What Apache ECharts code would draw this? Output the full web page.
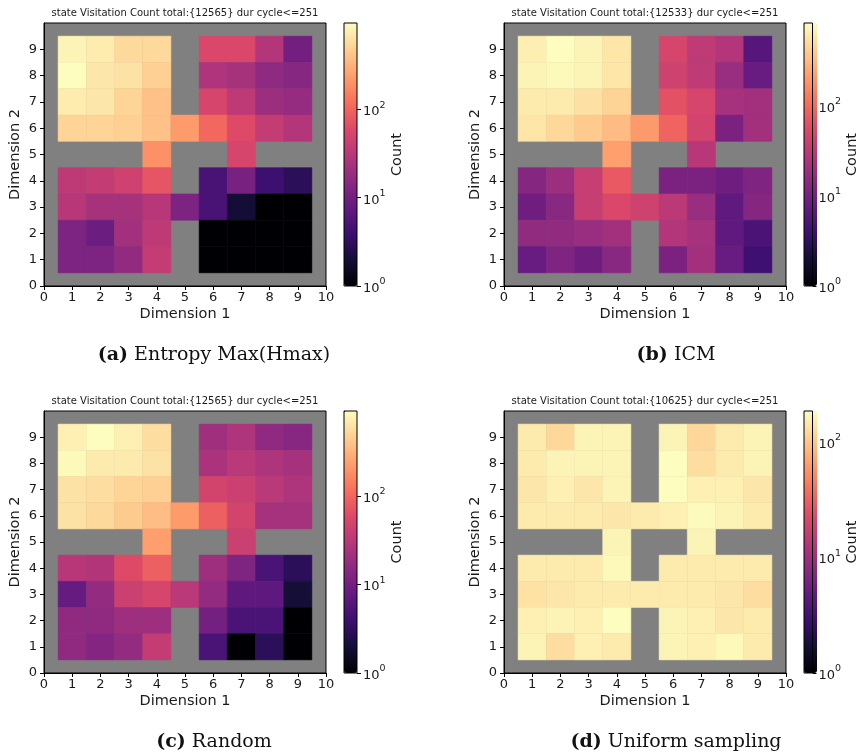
<!DOCTYPE html>
<html>
<head>
<meta charset="utf-8">
<script src="https://cdn.jsdelivr.net/npm/echarts@6/dist/echarts.min.js"></script>
<style>
  html, body { margin: 0; padding: 0; background: #fff; }
  #chart { width: 861px; height: 753px; }
</style>
</head>
<body>
<div id="chart"></div>
<script>
// visit counts, rows from y=9 (top) down to y=1, columns x=1..9, null = wall
const countsHmax = [
  [832, 733, 556, 556, null, 57, 57, 29, 10],
  [950, 676, 636, 484, null, 27, 24, 16, 14],
  [733, 676, 516, 392, null, 53, 35, 20, 18],
  [516, 516, 484, 392, 226, 106, 61, 38, 29],
  [null, null, null, 196, null, null, 53, null, null],
  [35, 38, 47, 76, null, 5, 11, 4, 3],
  [31, 24, 24, 31, 12, 5, 2, 1, 1],
  [12, 9, 22, 35, null, 1, 1, 1, 1],
  [12, 12, 17, 38, null, 1, 1, 1, 1]
]
const countsIcm = [
  [680, 832, 727, 594, null, 49, 33, 27, 6],
  [727, 780, 727, 594, null, 43, 33, 18, 8],
  [636, 636, 555, 453, null, 65, 49, 22, 21],
  [594, 486, 397, 323, 203, 90, 46, 11, 21],
  [null, null, null, 217, null, null, 29, null, null],
  [13, 19, 38, 74, null, 11, 11, 9, 12],
  [9, 14, 38, 53, 43, 31, 18, 7, 13],
  [16, 16, 18, 21, null, 27, 22, 7, 5],
  [8, 12, 9, 14, null, 11, 21, 8, 4]
]
const countsRandom = [
  [748, 912, 748, 573, null, 21, 26, 16, 14],
  [854, 700, 700, 612, null, 25, 32, 26, 23],
  [612, 573, 501, 469, null, 49, 42, 32, 26],
  [612, 535, 438, 358, 219, 90, 49, 23, 23],
  [null, null, null, 234, null, null, 42, null, null],
  [30, 28, 60, 90, null, 20, 12, 5, 3],
  [8, 17, 42, 52, 32, 17, 7, 7, 2],
  [16, 16, 20, 20, null, 10, 5, 5, 1],
  [16, 13, 17, 37, null, 5, 1, 3, 1]
]
const countsUniform = [
  [150, 121, 167, 167, null, 167, 121, 150, 167],
  [150, 167, 167, 167, null, 184, 128, 150, 167],
  [142, 158, 142, 167, null, 184, 158, 158, 142],
  [150, 150, 150, 142, 150, 158, 180, 167, 150],
  [null, null, null, 167, null, null, 167, null, null],
  [150, 150, 150, 175, null, 150, 150, 150, 150],
  [135, 142, 150, 150, 150, 150, 150, 142, 128],
  [158, 167, 158, 184, null, 167, 158, 142, 150],
  [167, 128, 158, 150, null, 167, 158, 175, 150]
]

const panelTitles = [
  'state Visitation Count total:{12565} dur cycle<=251',
  'state Visitation Count total:{12533} dur cycle<=251',
  'state Visitation Count total:{12565} dur cycle<=251',
  'state Visitation Count total:{10625} dur cycle<=251'
]
const captionTags = ['(a)', '(b)', '(c)', '(d)']
const captionTexts = ['Entropy Max(Hmax)', 'ICM', 'Random', 'Uniform sampling']

const dim1Ticks = [0, 1, 2, 3, 4, 5, 6, 7, 8, 9, 10]
const dim2Ticks = [0, 1, 2, 3, 4, 5, 6, 7, 8, 9]
const cbMajor = [1, 10, 100]
const cbMinor = [2, 3, 4, 5, 6, 7, 8, 9, 20, 30, 40, 50, 60, 70, 80, 90, 200, 300, 400, 500, 600, 700, 800, 900]

const panelCounts = [countsHmax, countsIcm, countsRandom, countsUniform]

// magma colormap
const magma = ['#000004', '#140e36', '#3b0f70', '#641a80', '#8c2981', '#b73779',
  '#de4968', '#f7705c', '#fe9f6d', '#fecf92', '#fcfdbf']

// plot boxes
const boxes = [
  { left: 44, top: 23, height: 263, cbLeft: 344, capX: 214, capY: 355 },
  { left: 504, top: 23, height: 263, cbLeft: 804, capX: 676, capY: 355 },
  { left: 44, top: 411, height: 262, cbLeft: 344, capX: 214, capY: 742 },
  { left: 504, top: 411, height: 262, cbLeft: 804, capX: 676, capY: 742 }
]
const plotW = 282
const cbW = 13

const sansFont = 'DejaVu Sans'
const serifFont = 'DejaVu Serif'
const ink = '#1a1a1a'
const tickFont = 13

const option = {
  backgroundColor: '#fff',
  animation: false,
  grid: [],
  xAxis: [],
  yAxis: [],
  series: [],
  visualMap: [],
  graphic: []
}

panelCounts.forEach((rows, i) => {
  const b = boxes[i]
  const cells = []
  let vmax = 1
  rows.forEach((row, r) => {
    row.forEach((v, c) => {
      if (v === null) return
      cells.push([c + 1, 9 - r, Math.log10(v), v])
      vmax = Math.max(vmax, v)
    })
  })
  const logMax = Math.log10(vmax)

  // main heatmap grid
  option.grid.push({
    left: b.left, top: b.top, width: plotW, height: b.height,
    show: true, backgroundColor: '#808080', borderColor: '#000', borderWidth: 1
  })
  // colorbar frame
  option.grid.push({
    left: b.cbLeft, top: b.top, width: cbW, height: b.height,
    show: true, backgroundColor: 'transparent', borderColor: '#000', borderWidth: 1, z: 10
  })

  const gMain = i * 2
  const gCb = i * 2 + 1

  option.xAxis.push({
    gridIndex: gMain, type: 'value', min: 0, max: 10, interval: 1,
    name: 'Dimension 1', nameLocation: 'middle', nameGap: 21,
    nameTextStyle: { fontFamily: sansFont, fontSize: 14.5, color: ink },
    axisLine: { lineStyle: { color: '#000', width: 1 } },
    axisTick: { length: 4, lineStyle: { color: '#000' }, customValues: dim1Ticks },
    axisLabel: { fontFamily: sansFont, fontSize: tickFont, color: ink, margin: 5, customValues: dim1Ticks },
    splitLine: { show: false }
  })
  option.xAxis.push({ gridIndex: gCb, type: 'value', min: 0, max: 1, show: false })

  const yMain = option.yAxis.length
  option.yAxis.push({
    gridIndex: gMain, type: 'value', min: 0, max: 10, interval: 1,
    name: 'Dimension 2', nameLocation: 'middle', nameGap: 21,
    nameTextStyle: { fontFamily: sansFont, fontSize: 14.5, color: ink },
    axisLine: { lineStyle: { color: '#000', width: 1 } },
    axisTick: { length: 4, lineStyle: { color: '#000' }, customValues: dim2Ticks },
    axisLabel: { fontFamily: sansFont, fontSize: tickFont, color: ink, margin: 7, customValues: dim2Ticks },
    splitLine: { show: false }
  })
  // colorbar minor ticks
  option.yAxis.push({
    gridIndex: gCb, type: 'value', min: 0, max: logMax, position: 'right',
    axisLine: { show: false }, splitLine: { show: false },
    axisTick: { length: 2.5, lineStyle: { color: '#000' },
      customValues: cbMinor.filter(v => v <= vmax).map(v => Math.log10(v)) },
    axisLabel: { show: false }
  })
  // colorbar major ticks + labels
  const majors = cbMajor.filter(v => v <= vmax).map(v => Math.log10(v))
  option.yAxis.push({
    gridIndex: gCb, type: 'value', min: 0, max: logMax, position: 'right',
    name: 'Count', nameLocation: 'middle', nameGap: 31, nameRotate: 90,
    nameTextStyle: { fontFamily: sansFont, fontSize: 14.5, color: ink },
    axisLine: { show: false }, splitLine: { show: false },
    axisTick: { length: 4, lineStyle: { color: '#000' }, customValues: majors },
    axisLabel: {
      fontFamily: sansFont, fontSize: tickFont, color: ink, margin: 6,
      customValues: majors,
      formatter: v => '{base|10}{sup|' + Math.round(v) + '}',
      rich: {
        base: { fontFamily: sansFont, fontSize: tickFont, color: ink, lineHeight: 18, verticalAlign: 'bottom' },
        sup: { fontFamily: sansFont, fontSize: 9.5, color: ink, lineHeight: 11, verticalAlign: 'top' }
      }
    }
  })

  option.series.push({
    type: 'custom',
    xAxisIndex: i * 2,
    yAxisIndex: yMain,
    data: cells,
    encode: { x: 0, y: 1 },
    renderItem: (params, api) => {
      const p0 = api.coord([api.value(0) - 0.5, api.value(1) + 0.5])
      const size = api.size([1, 1])
      const color = api.visual('color')
      return {
        type: 'rect',
        shape: { x: p0[0], y: p0[1], width: size[0], height: size[1] },
        style: { fill: color, stroke: color, lineWidth: 0.5 }
      }
    }
  })

  option.visualMap.push({
    type: 'continuous',
    seriesIndex: i,
    dimension: 2,
    min: 0,
    max: logMax,
    calculable: false,
    hoverLink: false,
    orient: 'vertical',
    left: b.cbLeft,
    top: b.top,
    itemWidth: cbW,
    itemHeight: b.height,
    padding: 0,
    inRange: { color: magma }
  })

  option.graphic.push({
    type: 'text',
    x: b.left + plotW / 2,
    y: b.top - 10,
    style: {
      text: panelTitles[i], fontFamily: sansFont, fontSize: 10, fill: ink,
      align: 'center', verticalAlign: 'middle'
    }
  })
  option.graphic.push({
    type: 'text',
    x: b.capX,
    y: b.capY,
    style: {
      text: '{tag|' + captionTags[i] + '} ' + captionTexts[i],
      fontFamily: serifFont, fontSize: 19, fill: '#111',
      align: 'center', verticalAlign: 'middle',
      rich: { tag: { fontFamily: serifFont, fontSize: 19, fontWeight: 'bold', fill: '#111' } }
    }
  })
})

const chart = echarts.init(document.getElementById('chart'))
chart.setOption(option)
</script>
</body>
</html>
